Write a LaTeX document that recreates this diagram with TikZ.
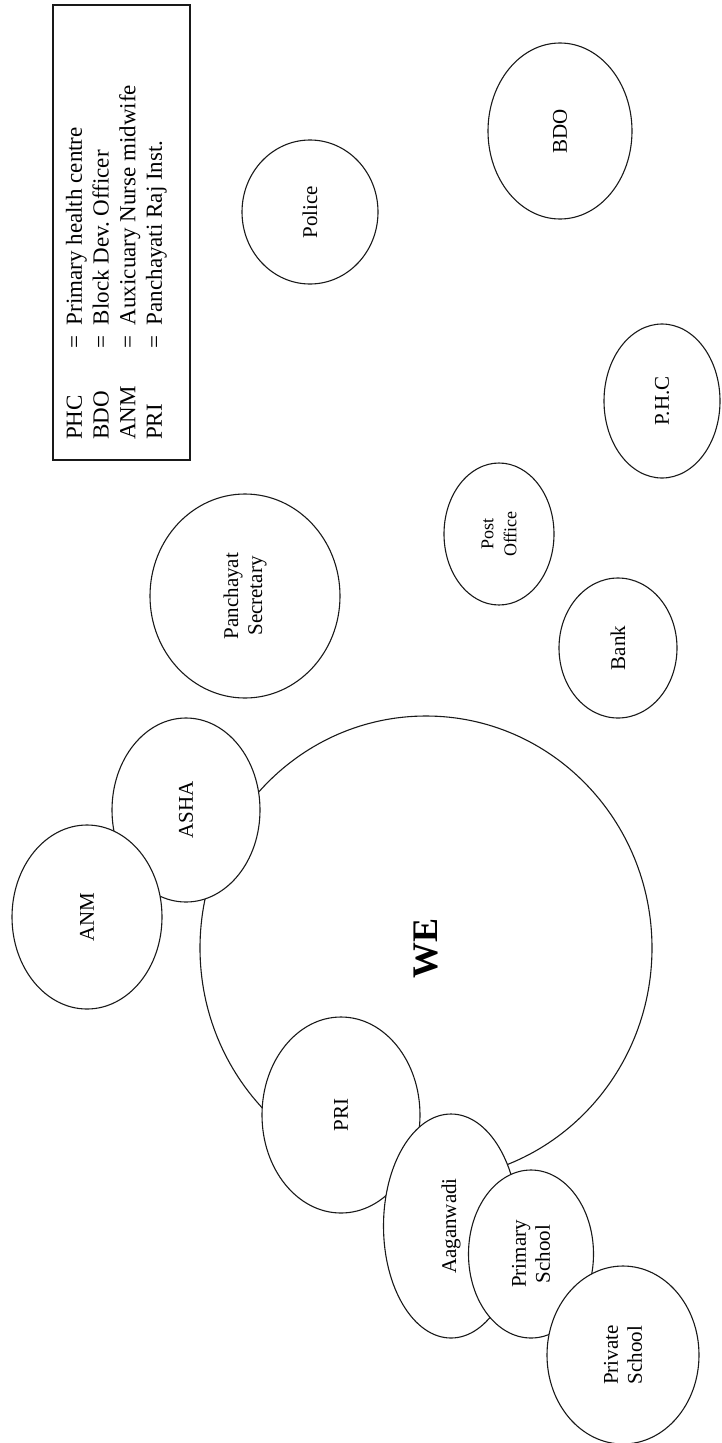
\documentclass[tikz,border=0pt]{standalone}
\usepackage{fontspec}
\setmainfont{Liberation Serif}
\usetikzlibrary{shapes.geometric}
\tikzset{
  bub/.style={ellipse, draw=black!90, line width=1.1pt, fill=white, inner sep=0pt,
    rotate=90, align=center, font=\fontsize{21}{24}\selectfont},
  smallbub/.style={bub, font=\fontsize{18}{23}\selectfont},
  legbox/.style={draw=black!90, line width=1.1pt, rectangle, inner sep=0pt},
}
\begin{document}
\begin{tikzpicture}[x=1pt,y=-1pt]
\useasboundingbox (0,0) rectangle (722,1443);
\fill[white] (0,0) rectangle (722,1443);
% legend
\node[legbox, minimum width=137pt, minimum height=455pt] (legend) at (121.5,232.5) {};
\node[rotate=90, anchor=north west, inner sep=0pt, font=\fontsize{23}{26.7}\selectfont] (legtext) at (63,440)
 {\begin{tabular}{@{}l@{\hspace{38pt}}c@{\hspace{10pt}}l@{}}
  PHC & = & Primary health centre\\
  BDO & = & Block Dev.\ Officer\\
  ANM & = & Auxicuary Nurse midwife\\
  PRI & = & Panchayati Raj Inst.
 \end{tabular}};
% free bubbles
\node[bub, minimum width=144pt, minimum height=136pt] (police) at (310,212) {Police};
\node[bub, minimum width=176pt, minimum height=144pt] (bdo) at (560,131) {BDO};
\node[bub, minimum width=154pt, minimum height=116pt] (phc) at (662,401) {P.H.C};
\node[bub, minimum width=204pt, minimum height=190pt] (pansec) at (245,596) {Panchayat\\Secretary};
\node[smallbub, minimum width=142pt, minimum height=110pt] (post) at (499,534) {Post\\Office};
\node[bub, minimum width=140pt, minimum height=118pt] (bank) at (618,648) {Bank};
% central cluster (drawn bottom to top)
\node[bub, minimum width=464pt, minimum height=452pt, font=\bfseries\fontsize{36}{40}\selectfont] (we) at (426,948) {WE};
\node[bub, minimum width=184pt, minimum height=148pt] (asha) at (186,810) {ASHA};
\node[bub, minimum width=184pt, minimum height=150pt] (anm) at (87,917) {ANM};
\node[bub, minimum width=196pt, minimum height=158pt] (pri) at (341,1115) {PRI};
\node[bub, minimum width=224pt, minimum height=135pt] (aagan) at (451,1226) {Aaganwadi};
\node[bub, minimum width=168pt, minimum height=125pt] (prim) at (531,1254) {Primary\\School};
\node[bub, minimum width=178pt, minimum height=152pt] (priv) at (623,1355) {Private\\School};
\end{tikzpicture}
\end{document}
